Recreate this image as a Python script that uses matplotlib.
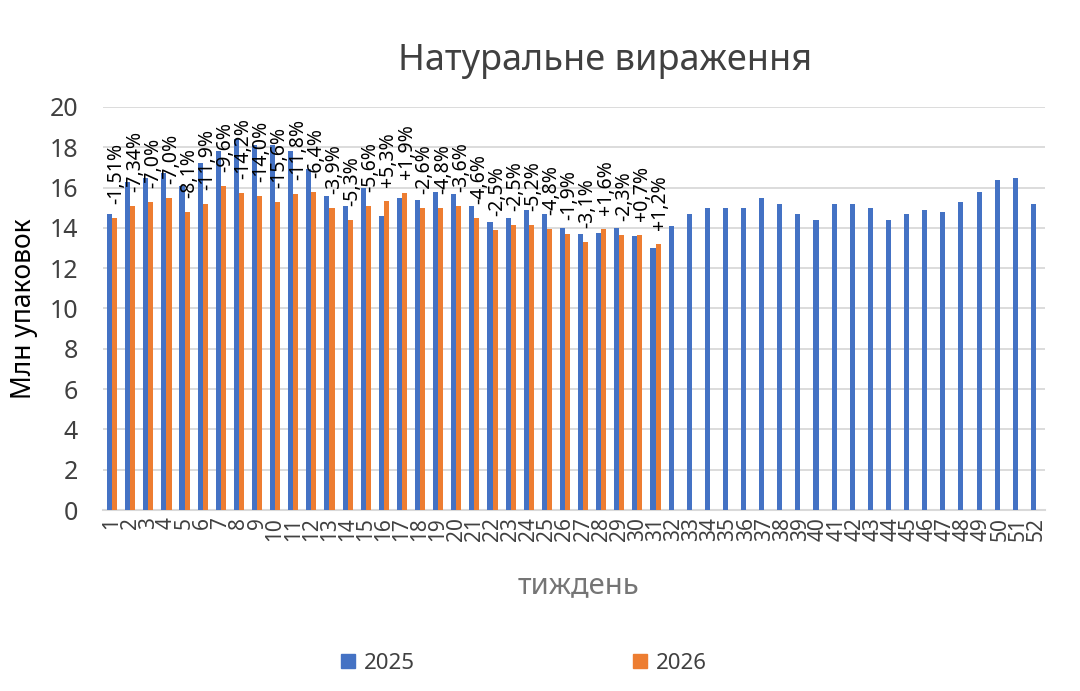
import matplotlib
matplotlib.use('Agg')
import matplotlib.pyplot as plt
from matplotlib.patches import Patch
import numpy as np

plt.rcParams['font.family'] = ['Noto Sans', 'DejaVu Sans']

weeks = list(range(1, 53))
sales_2025 = [14.7, 16.3, 16.5, 16.7, 16.1, 17.2, 17.8, 18.4, 18.1, 18.1,
              17.8, 16.9, 15.6, 15.1, 16.0, 14.6, 15.5, 15.4, 15.8, 15.7,
              15.1, 14.3, 14.5, 14.9, 14.7, 14.0, 13.7, 13.75, 14.0, 13.6,
              13.0, 14.1, 14.7, 15.0, 15.0, 15.0, 15.5, 15.2, 14.7, 14.4,
              15.2, 15.2, 15.0, 14.4, 14.7, 14.9, 14.8, 15.3, 15.8, 16.4,
              16.5, 15.2]
sales_2026 = [14.5, 15.1, 15.3, 15.5, 14.8, 15.2, 16.1, 15.75, 15.6, 15.3,
              15.7, 15.8, 15.0, 14.4, 15.1, 15.35, 15.75, 15.0, 15.0, 15.1,
              14.5, 13.9, 14.15, 14.15, 13.95, 13.7, 13.3, 13.95, 13.65, 13.65,
              13.2]
change_labels = ['-1,51%', '-7,34%', '-7,0%', '-7,0%', '-8,1%', '-11,9%', '-9,6%',
                 '-14,2%', '-14,0%', '-15,6%', '-11,8%', '-6,4%', '-3,9%', '-5,3%',
                 '-5,6%', '+5,3%', '+1,9%', '-2,6%', '-4,8%', '-3,6%', '-4,6%',
                 '-2,5%', '-2,5%', '-5,2%', '-4,8%', '-1,9%', '-3,1%', '+1,6%',
                 '-2,3%', '+0,7%', '+1,2%']

blue = '#4472C4'
orange = '#ED7D31'
text_c = '#404040'

fig = plt.figure(figsize=(10.8, 6.91), dpi=100)
ax = fig.add_axes([0.0954, 0.2619, 0.8722, 0.5833])

x25 = np.array(weeks)
x26 = np.arange(1, len(sales_2026) + 1)
w = 0.28
ax.bar(x25 - w / 2, sales_2025, width=w, color=blue, zorder=3)
ax.bar(x26 + w / 2, sales_2026, width=w, color=orange, zorder=3)

for xi, v, lab in zip(x26, sales_2026, change_labels):
    ax.annotate(lab, (xi + w / 2, v), xytext=(1.5, 10), textcoords='offset points',
                rotation=90, ha='center', va='bottom', fontsize=14, color='black')

ax.set_xlim(0.5, 52.5)
ax.set_ylim(0, 20)
ax.set_yticks(range(0, 21, 2))
ax.set_xticks(weeks)
ax.set_xticklabels([str(k) for k in weeks], rotation=90)
ax.tick_params(axis='x', length=0, labelsize=15, colors=text_c, pad=5)
ax.tick_params(axis='y', length=0, labelsize=18, colors=text_c, pad=18)
ax.grid(axis='y', color='#d9d9d9', linewidth=1.3, zorder=0)
for s in ['top', 'right', 'left']:
    ax.spines[s].set_visible(False)
ax.spines['bottom'].set_color('#d9d9d9')
ax.spines['bottom'].set_linewidth(1.5)

fig.text(0.56, 0.912, 'Натуральне вираження', ha='center', va='center',
         fontsize=26, color=text_c)
fig.text(0.536, 0.153, 'тиждень', ha='center', va='center', fontsize=21, color='#757575')
fig.text(0.022, 0.553, 'Млн упаковок', ha='center', va='center', rotation=90,
         fontsize=19, color='black')

handles = [Patch(color=blue, label='2025'), Patch(color=orange, label='2026')]
fig.legend(handles=handles, loc='center', bbox_to_anchor=(0.485, 0.04), ncol=2,
           frameon=False, fontsize=16, handlelength=0.65, handleheight=0.65,
           handletextpad=0.4, columnspacing=9.8, labelcolor=text_c)

fig.savefig('out.png', dpi=100)
